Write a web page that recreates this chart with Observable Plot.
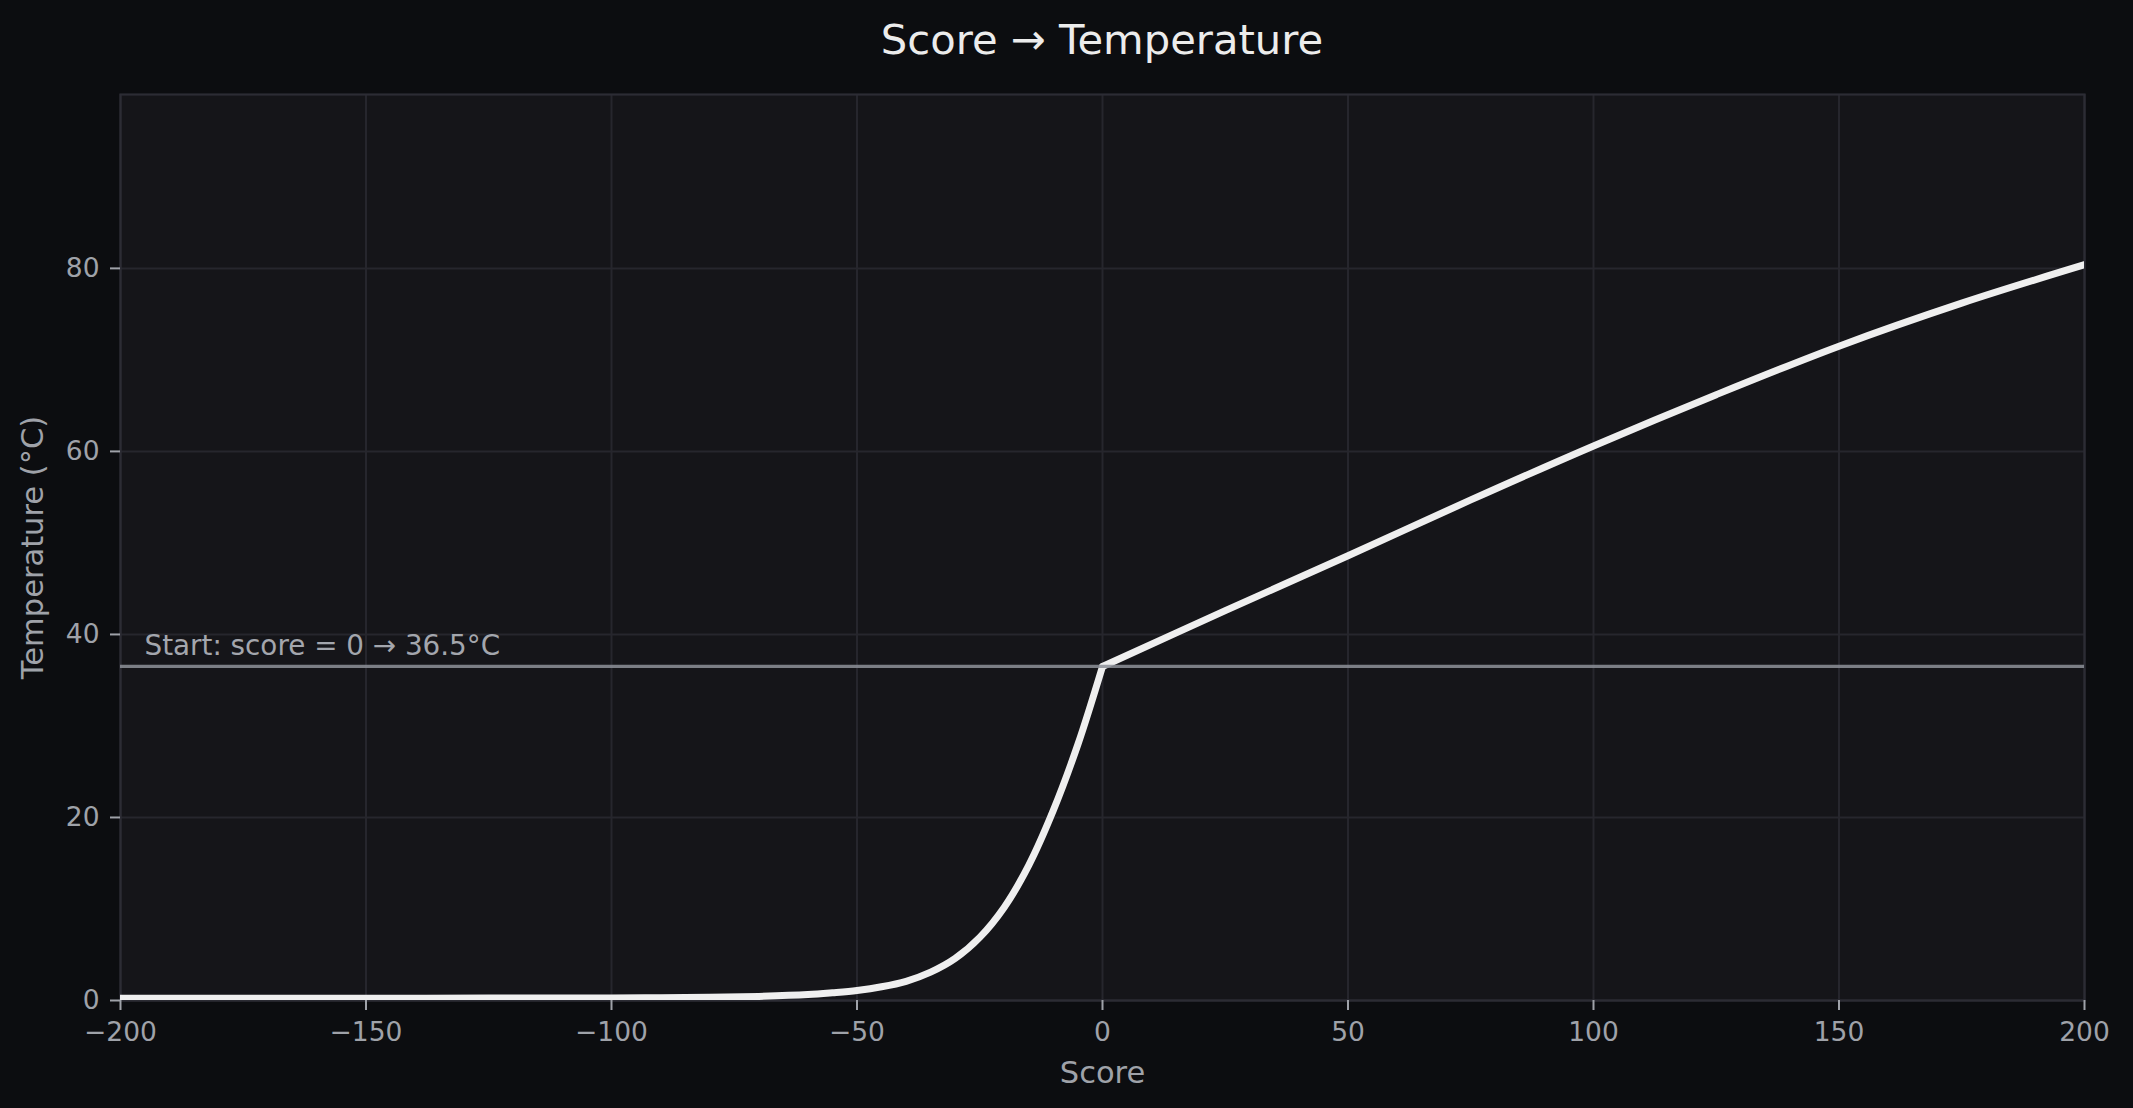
<!DOCTYPE html>
<html><head><meta charset="utf-8">
<script src="https://cdn.jsdelivr.net/npm/d3@7"></script>
<script src="https://cdn.jsdelivr.net/npm/@observablehq/plot@0.6"></script>
<style>
html,body{margin:0;padding:0;background:#0c0d10;}
body{width:2133px;height:1108px;overflow:hidden;font-family:"DejaVu Sans",sans-serif;}
#title{box-sizing:border-box;width:2133px;height:80px;padding:0 49px 0 120px;text-align:center;color:#ececec;font-size:41.7px;line-height:80px;white-space:nowrap;}
#chart svg{display:block;}
</style></head><body>
<div id="title">Score → Temperature</div>
<div id="chart"></div>
<script>
// Curve below the start point (score < 0)
const negScores = [-200, -175, -150, -125, -100, -90, -80, -70, -60, -55, -50, -45, -40, -35, -30, -25, -20, -15, -10, -5, 0];
const negTemps  = [0.25, 0.25, 0.25, 0.26, 0.28, 0.3, 0.35, 0.45, 0.65, 0.85, 1.1, 1.5, 2.1, 3.1, 4.6, 6.9, 10.2, 14.8, 20.8, 28.0, 36.5];
// Curve above the start point (score >= 0)
const posScores = [0, 25, 50, 75, 100, 125, 150, 175, 200];
const posTemps  = [36.5, 42.6, 48.6, 54.7, 60.6, 66.2, 71.5, 76.2, 80.4];

const xTicks = [-200, -150, -100, -50, 0, 50, 100, 150, 200];
const yTicks = [0, 20, 40, 60, 80];
const xDomain = [-200, 200];
const yDomain = [0, 99];
const startScore = 0;
const startTemp = 36.5;
const annotation = `Start: score = ${startScore} → ${startTemp}°C`;

const data = [
  ...negScores.map((s, i) => ({score: s, temp: negTemps[i], branch: "below"})),
  ...posScores.map((s, i) => ({score: s, temp: posTemps[i], branch: "above"}))
];
const fmt = d => d < 0 ? "\u2212" + Math.abs(d) : String(d);

const tickColor = "#9fa2a9";
const gridColor = "#26262d";

const chart = Plot.plot({
  width: 2133,
  height: 1028,
  marginTop: 14,
  marginBottom: 108,
  marginLeft: 120,
  marginRight: 49,
  style: {background: "transparent", fontFamily: "DejaVu Sans", color: tickColor, overflow: "visible"},
  x: {domain: xDomain},
  y: {domain: yDomain},
  marks: [
    Plot.frame({fill: "#151519", stroke: "none"}),
    Plot.gridX(xTicks, {stroke: gridColor, strokeWidth: 2, strokeOpacity: 1}),
    Plot.gridY(yTicks, {stroke: gridColor, strokeWidth: 2, strokeOpacity: 1}),
    Plot.frame({stroke: "#2c2c34", strokeWidth: 2.2}),
    Plot.axisX(xTicks, {tickSize: 10, tickPadding: 12, fontSize: 26.5, tickFormat: fmt, label: null, strokeWidth: 2}),
    Plot.axisY(yTicks, {tickSize: 10, tickPadding: 11, fontSize: 26.5, label: null, strokeWidth: 2}),
    Plot.line(data, {x: "score", y: "temp", z: "branch", curve: "catmull-rom", stroke: "#efefef", strokeWidth: 7, strokeLinecap: "round", strokeLinejoin: "round", clip: true}),
    Plot.ruleY([startTemp], {stroke: "#8d9199", strokeWidth: 3.2, strokeOpacity: 0.85}),
    Plot.text([{x: xDomain[0], y: startTemp, label: annotation}], {x: "x", y: "y", text: "label", dx: 24, dy: -20, textAnchor: "start", fontSize: 27.8, fill: "#a3a6ad"}),
    Plot.text(["Score"], {frameAnchor: "bottom", dy: 82, fontSize: 30.5, fill: tickColor}),
    Plot.text(["Temperature (°C)"], {frameAnchor: "left", dx: -87, rotate: -90, textAnchor: "middle", fontSize: 30.5, fill: tickColor})
  ]
});
document.getElementById("chart").appendChild(chart);
</script>
</body></html>
